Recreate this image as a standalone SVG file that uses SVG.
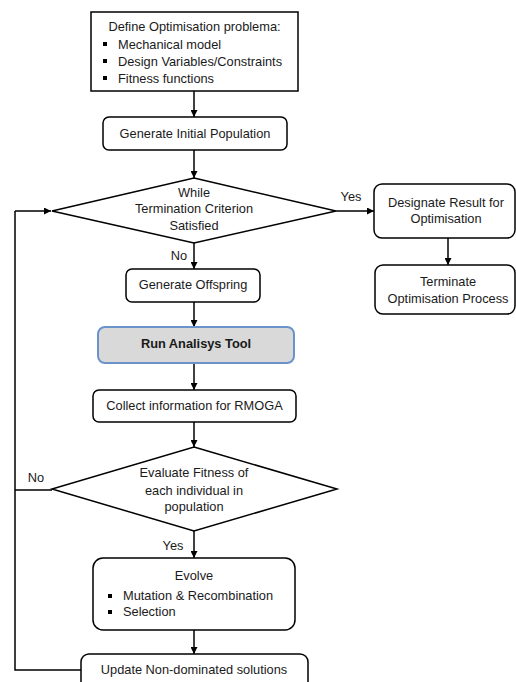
<svg xmlns="http://www.w3.org/2000/svg" width="516" height="682" viewBox="0 0 516 682">
<defs>
<marker id="ah" viewBox="0 0 10 10" refX="10" refY="5" markerWidth="7" markerHeight="7" markerUnits="userSpaceOnUse" orient="auto"><path d="M0,0 L10,5 L0,10 z" fill="#000"/></marker>
<style>
.box{fill:#fff;stroke:#000;stroke-width:1.5}
.hl{fill:#d9d9d9;stroke:#6a93cc;stroke-width:2}
.t{font-family:"Liberation Sans",Arial,sans-serif;font-size:12.8px;fill:#1a1a1a}
.c{text-anchor:middle}
.b{font-weight:bold}
.ln{fill:none;stroke:#000;stroke-width:1.5}
.ar{fill:none;stroke:#000;stroke-width:1.5;marker-end:url(#ah)}
</style>
</defs>
<rect width="516" height="682" fill="#fff"/>
<g id="connectors">
<line class="ar" x1="194" y1="91" x2="194" y2="117"/>
<line class="ar" x1="194" y1="150" x2="194" y2="178"/>
<line class="ar" x1="336" y1="211" x2="374" y2="211"/>
<line class="ar" x1="448" y1="238" x2="448" y2="265"/>
<line class="ar" x1="194" y1="243" x2="194" y2="269"/>
<line class="ar" x1="194" y1="302" x2="194" y2="327"/>
<line class="ar" x1="194" y1="363" x2="194" y2="390"/>
<line class="ar" x1="194" y1="422" x2="194" y2="447"/>
<line class="ar" x1="194" y1="531" x2="194" y2="558"/>
<line class="ar" x1="194" y1="630" x2="194" y2="654"/>
<polyline class="ln" points="81,670 15,670 15,211"/>
<line class="ar" x1="15" y1="211" x2="51" y2="211"/>
<line class="ln" x1="52" y1="490" x2="15" y2="490"/>
<text class="t" x="351" y="201" text-anchor="middle">Yes</text>
<text class="t" x="179" y="260" text-anchor="middle">No</text>
<text class="t" x="36" y="482" text-anchor="middle">No</text>
<text class="t" x="173" y="550" text-anchor="middle">Yes</text>
</g>
<g id="define">
<rect class="box" x="91" y="12" width="207" height="79"/>
<text class="t c" x="194.5" y="31">Define Optimisation problema:</text>
<rect x="103" y="42" width="4" height="4" fill="#000"/>
<rect x="103" y="59" width="4" height="4" fill="#000"/>
<rect x="103" y="76" width="4" height="4" fill="#000"/>
<text class="t" x="118" y="49">Mechanical model</text>
<text class="t" x="118" y="66">Design Variables/Constraints</text>
<text class="t" x="118" y="83">Fitness functions</text>
</g>
<g id="init">
<rect class="box" x="103" y="117" width="184" height="33" rx="6"/>
<text class="t c" x="195" y="138">Generate Initial Population</text>
</g>
<g id="while">
<polygon class="box" points="194,178 336,211 194,243 52,211"/>
<text class="t c" x="194" y="197">While</text>
<text class="t c" x="194" y="213">Termination Criterion</text>
<text class="t c" x="194" y="230">Satisfied</text>
</g>
<g id="designate">
<rect class="box" x="374" y="184" width="141" height="54" rx="8"/>
<text class="t c" x="446" y="207">Designate Result for</text>
<text class="t c" x="446" y="223">Optimisation</text>
</g>
<g id="terminate">
<rect class="box" x="375" y="265" width="140" height="49" rx="8"/>
<text class="t c" x="448" y="286">Terminate</text>
<text class="t c" x="448" y="303">Optimisation Process</text>
</g>
<g id="offspring">
<rect class="box" x="126" y="269" width="134" height="33" rx="6"/>
<text class="t c" x="193" y="289">Generate Offspring</text>
</g>
<g id="run">
<rect class="hl" x="98" y="327" width="196" height="36" rx="7"/>
<text class="t c b" x="196" y="348">Run Analisys Tool</text>
</g>
<g id="collect">
<rect class="box" x="93" y="390" width="203" height="32" rx="6"/>
<text class="t c" x="194.5" y="410">Collect information for RMOGA</text>
</g>
<g id="evaluate">
<polygon class="box" points="194,447 337,489 194,531 52,489"/>
<text class="t c" x="194" y="477">Evaluate Fitness of</text>
<text class="t c" x="194" y="495">each individual in</text>
<text class="t c" x="194" y="511">population</text>
</g>
<g id="evolve">
<rect class="box" x="93" y="558" width="202" height="72" rx="10"/>
<text class="t c" x="194" y="580">Evolve</text>
<rect x="108" y="594" width="4" height="4" fill="#000"/>
<rect x="108" y="610" width="4" height="4" fill="#000"/>
<text class="t" x="123" y="600">Mutation &amp; Recombination</text>
<text class="t" x="123" y="616">Selection</text>
</g>
<g id="update">
<rect class="box" x="81" y="654" width="227" height="40" rx="8"/>
<text class="t c" x="194" y="674">Update Non-dominated solutions</text>
</g>
</svg>
